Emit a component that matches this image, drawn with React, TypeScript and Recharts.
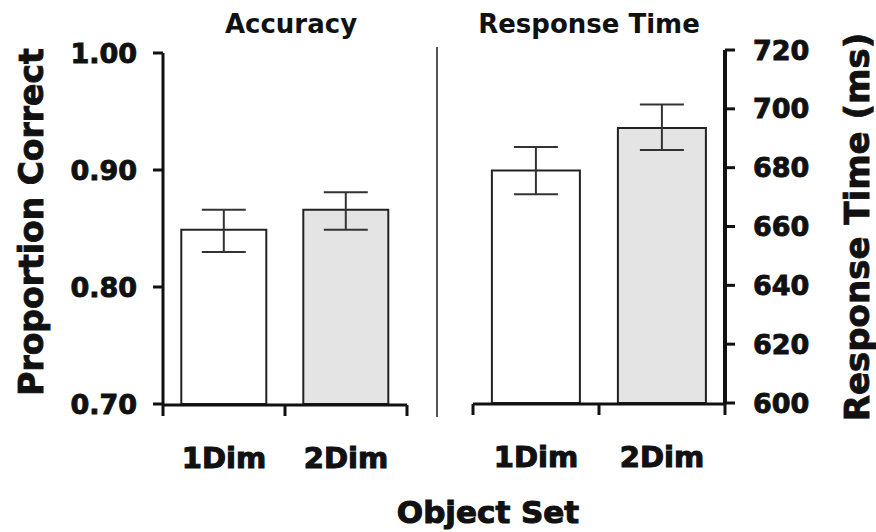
import { BarChart, Bar, XAxis, YAxis, ErrorBar, Cell } from 'recharts'

const CONDITIONS = ['1Dim', '2Dim']

// Accuracy (proportion correct), means and error-bar bounds
const ACC_MEAN = [0.849, 0.866]
const ACC_LOW = [0.83, 0.849]
const ACC_HIGH = [0.866, 0.881]
const ACC_TICKS = [0.7, 0.8, 0.9, 1.0]

// Response time in ms, means and error-bar bounds
const RT_MEAN = [679, 693.5]
const RT_LOW = [671, 686]
const RT_HIGH = [687, 701.5]
const RT_TICKS = [600, 620, 640, 660, 680, 700, 720]

// fractions of the x range where the boundary ticks sit
const EDGE_TICKS = [0, 0.5, 1]

const BAR_FILLS = ['#ffffff', '#e4e4e4']
const INK = '#111'
const FONT = '"DejaVu Sans", sans-serif'

const buildRows = (mean: number[], low: number[], high: number[]) =>
  CONDITIONS.map((name, i) => ({
    name,
    value: mean[i],
    err: [mean[i] - low[i], high[i] - mean[i]],
  }))

const accData = buildRows(ACC_MEAN, ACC_LOW, ACC_HIGH)
const rtData = buildRows(RT_MEAN, RT_LOW, RT_HIGH)

const tickText = { fill: INK, stroke: INK, strokeWidth: 0.9, fontSize: 27, fontWeight: 700, fontFamily: FONT }
const catText = { fill: INK, stroke: INK, strokeWidth: 1.1, fontSize: 29, fontWeight: 700, fontFamily: FONT }
const heavyLine = { stroke: INK, strokeWidth: 3 }

interface PanelProps {
  data: { name: string; value: number; err: number[] }[]
  domain: [number, number]
  ticks: number[]
  side: 'left' | 'right'
  format: (v: number) => string
  width: number
  margin: { top: number; right: number; bottom: number; left: number }
}

function Panel({ data, domain, ticks, side, format, width, margin }: PanelProps) {
  return (
    <BarChart width={width} height={532} data={data} margin={margin} barCategoryGap="15%">
      {/* boundary ticks between the two conditions */}
      <XAxis
        xAxisId="edge"
        type="number"
        domain={[0, 1]}
        ticks={EDGE_TICKS}
        interval={0}
        height={1}
        tickSize={11}
        tickFormatter={() => ''}
        axisLine={heavyLine}
        tickLine={heavyLine}
      />
      <XAxis
        dataKey="name"
        height={1}
        interval={0}
        axisLine={false}
        tickLine={false}
        tickSize={0}
        tickMargin={43}
        tick={catText}
      />
      <YAxis
        orientation={side}
        width={100}
        domain={domain}
        ticks={ticks}
        interval={0}
        tickSize={10}
        tickMargin={side === 'left' ? 16 : 18}
        tickFormatter={format}
        axisLine={side === 'left' ? heavyLine : { stroke: INK, strokeWidth: 4 }}
        tickLine={heavyLine}
        tick={tickText}
      />
      <Bar dataKey="value" stroke="#222" strokeWidth={2} isAnimationActive={false}>
        {data.map((d, i) => (
          <Cell key={d.name} fill={BAR_FILLS[i]} />
        ))}
        <ErrorBar dataKey="err" width={22} stroke="#333" strokeWidth={2} isAnimationActive={false} />
      </Bar>
    </BarChart>
  )
}

export default function App() {
  return (
    <div style={{ position: 'absolute', left: 0, top: 0, width: 876, height: 532, background: '#fff', fontFamily: FONT }}>
      <div style={{ position: 'absolute', left: 0, top: 0 }}>
        <Panel
          data={accData}
          domain={[0.7, 1.0]}
          ticks={ACC_TICKS}
          side="left"
          format={v => v.toFixed(2)}
          width={440}
          margin={{ top: 53, right: 33, bottom: 126, left: 63 }}
        />
      </div>
      <div style={{ position: 'absolute', left: 440, top: 0 }}>
        <Panel
          data={rtData}
          domain={[600, 720]}
          ticks={RT_TICKS}
          side="right"
          format={v => String(v)}
          width={436}
          margin={{ top: 50, right: 51, bottom: 127, left: 33 }}
        />
      </div>

      {/* titles, divider and axis captions */}
      <svg width={876} height={532} style={{ position: 'absolute', left: 0, top: 0, pointerEvents: 'none' }}>
        <line x1={437} y1={47} x2={437} y2={417} stroke="#555" strokeWidth={2} />
        <text x={291} y={33} textAnchor="middle" fontSize={26} fontWeight={700} fill={INK} fontFamily={FONT}>
          Accuracy
        </text>
        <text x={589} y={33} textAnchor="middle" fontSize={26} fontWeight={700} fill={INK} fontFamily={FONT}>
          Response Time
        </text>
        <text
          x={43}
          y={222}
          transform="rotate(-90 43 222)"
          textAnchor="middle"
          fontSize={33}
          fontWeight={700}
          fill={INK}
          stroke={INK}
          strokeWidth={0.9}
          fontFamily={FONT}
        >
          Proportion Correct
        </text>
        <text
          x={869}
          y={227}
          transform="rotate(-90 869 227)"
          textAnchor="middle"
          fontSize={34}
          fontWeight={700}
          fill={INK}
          stroke={INK}
          strokeWidth={0.9}
          fontFamily={FONT}
        >
          Response Time (ms)
        </text>
        <text
          x={488}
          y={523}
          textAnchor="middle"
          fontSize={31}
          fontWeight={700}
          fill={INK}
          stroke={INK}
          strokeWidth={1.1}
          fontFamily={FONT}
        >
          Object Set
        </text>
      </svg>
    </div>
  )
}
